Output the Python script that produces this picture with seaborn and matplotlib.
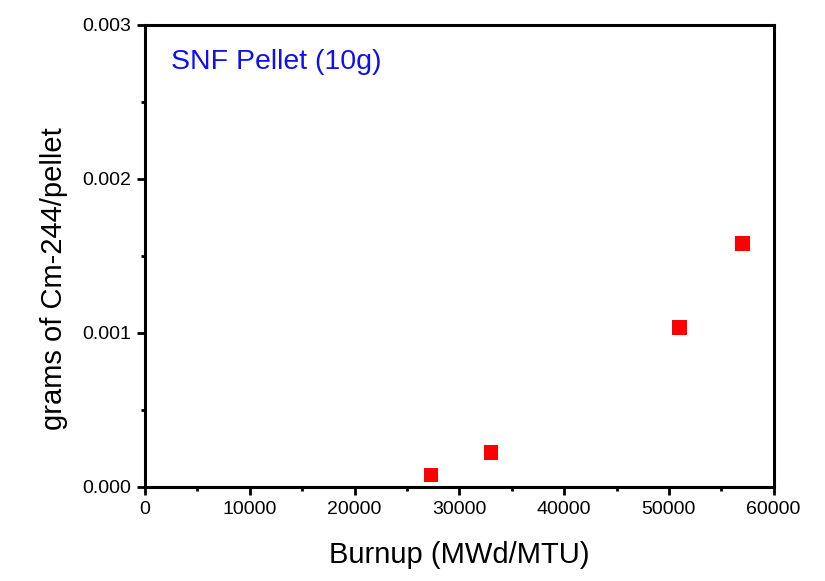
import matplotlib
matplotlib.use("Agg")
import matplotlib.pyplot as plt
import seaborn as sns
import pandas as pd
from matplotlib.ticker import MultipleLocator, FormatStrFormatter

burnup = [27300, 33000, 51000, 57000]
cm244 = [0.000078, 0.000225, 0.001037, 0.001582]

sns.set_theme(style="white")
plt.rcParams['font.family'] = ['Liberation Sans', 'DejaVu Sans']

df = pd.DataFrame({"burnup": burnup, "cm": cm244})
fig = plt.figure(figsize=(8.25, 5.81), dpi=100)
ax = fig.add_axes([0.1758, 0.1618, 0.762, 0.7952])
sns.scatterplot(data=df, x="burnup", y="cm", marker="s", s=110, color="#ff0000",
                edgecolor="none", linewidth=0, ax=ax, legend=False)
ax.set_xlim(0, 60000)
ax.set_ylim(0, 0.003)
ax.xaxis.set_major_locator(MultipleLocator(10000))
ax.xaxis.set_minor_locator(MultipleLocator(5000))
ax.yaxis.set_major_locator(MultipleLocator(0.001))
ax.yaxis.set_minor_locator(MultipleLocator(0.0005))
ax.yaxis.set_major_formatter(FormatStrFormatter('%.3f'))
for s in ax.spines.values():
    s.set_linewidth(2.2)
    s.set_color("black")
ax.tick_params(which="major", direction="out", length=6, width=2.0, labelsize=14,
               bottom=True, left=True, colors="black", pad=4)
ax.tick_params(which="minor", direction="out", length=3, width=2.0,
               bottom=True, left=True, colors="black")
ax.set_xlabel("Burnup (MWd/MTU)", fontsize=21, color="black", labelpad=17)
ax.set_ylabel("grams of Cm-244/pellet", fontsize=21, color="black")
ax.yaxis.set_label_coords(-0.123, 0.452)
ax.text(0.042, 0.92, "SNF Pellet (10g)", transform=ax.transAxes, color="#1010ee",
        fontsize=20.5, ha="left", va="center")
fig.savefig("out.png", dpi=100)
